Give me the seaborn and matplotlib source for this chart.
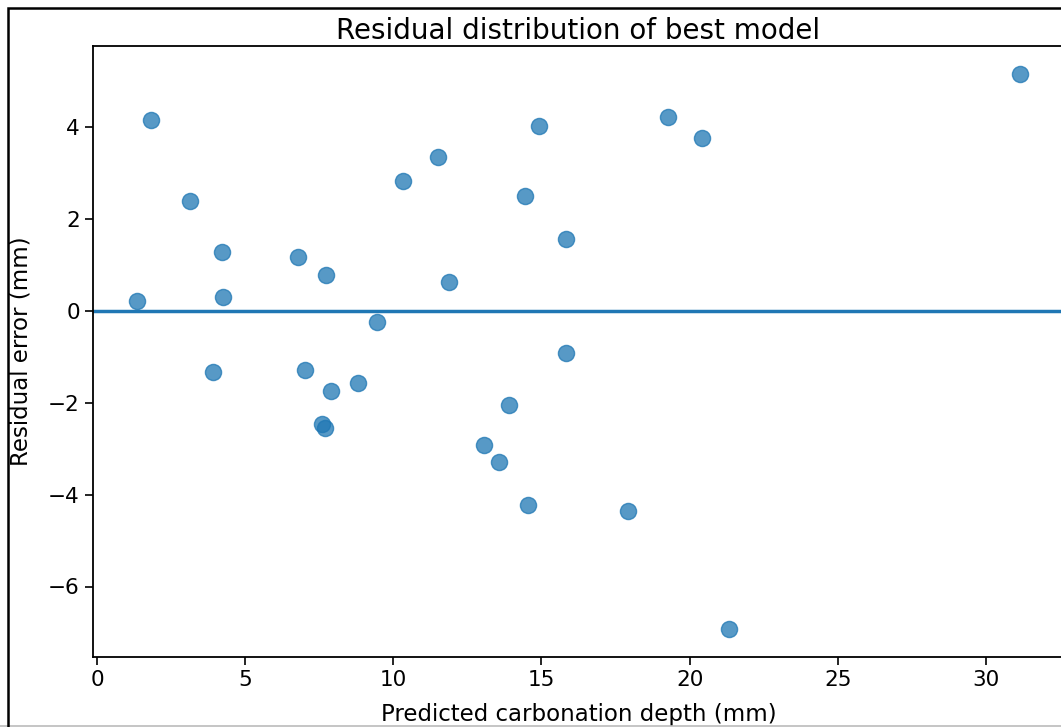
import matplotlib
matplotlib.use("Agg")
import matplotlib.pyplot as plt
import seaborn as sns
import pandas as pd
from matplotlib.patches import Rectangle
from matplotlib.lines import Line2D

# predicted depth (mm) and residual (mm)
predicted = [1.35, 1.82, 3.14, 3.92, 4.22, 4.26, 6.79, 7.03, 7.74, 7.60,
             7.70, 7.91, 8.82, 9.46, 10.34, 11.52, 11.89, 13.07, 13.55, 13.89,
             14.46, 14.53, 14.90, 15.84, 15.84, 17.91, 19.26, 20.41, 21.32, 31.15]
residual = [0.22, 4.15, 2.40, -1.33, 1.29, 0.31, 1.18, -1.29, 0.77, -2.47,
            -2.56, -1.75, -1.57, -0.24, 2.82, 3.34, 0.63, -2.93, -3.30, -2.05,
            2.51, -4.22, 4.02, 1.57, -0.92, -4.35, 4.22, 3.76, -6.93, 5.16]

df = pd.DataFrame({"pred": predicted, "resid": residual})

sns.set_style("ticks", rc={"text.color": "black", "axes.labelcolor": "black",
                           "xtick.color": "black", "ytick.color": "black",
                           "axes.edgecolor": "black"})
plt.rcParams['font.family'] = ['DejaVu Sans']

fig = plt.figure(figsize=(10.61, 7.27), dpi=100)
ax = fig.add_axes([93 / 1061, 1 - 657 / 727, (1064 - 93) / 1061, (657 - 46) / 727])

sns.scatterplot(data=df, x="pred", y="resid", ax=ax, color="#1f77b4",
                alpha=0.75, s=135, edgecolor="#1f77b4", linewidth=1)
ax.axhline(0, color="#1f77b4", lw=2.5)

ax.set_title("Residual distribution of best model", fontsize=20, pad=5)
ax.set_xlabel("Predicted carbonation depth (mm)", fontsize=16.5, labelpad=9)
ax.set_ylabel("Residual error (mm)", fontsize=16.5, labelpad=11)
ax.tick_params(labelsize=15.5, length=5.5, width=1.2, pad=4)
for sp in ax.spines.values():
    sp.set_linewidth(1.3)

# frame round the figure (cropped at right and bottom)
fig.patches.append(Rectangle((8 / 1061, -0.05), 1.1, 1 - 8 / 727 + 0.05,
                             transform=fig.transFigure, fill=False,
                             edgecolor="black", lw=1.8, zorder=10))
fig.lines.append(Line2D([0, 1], [1.5 / 727, 1.5 / 727], transform=fig.transFigure,
                        color="#bbbbbb", lw=1.2))

fig.savefig("out.png", dpi=100)
